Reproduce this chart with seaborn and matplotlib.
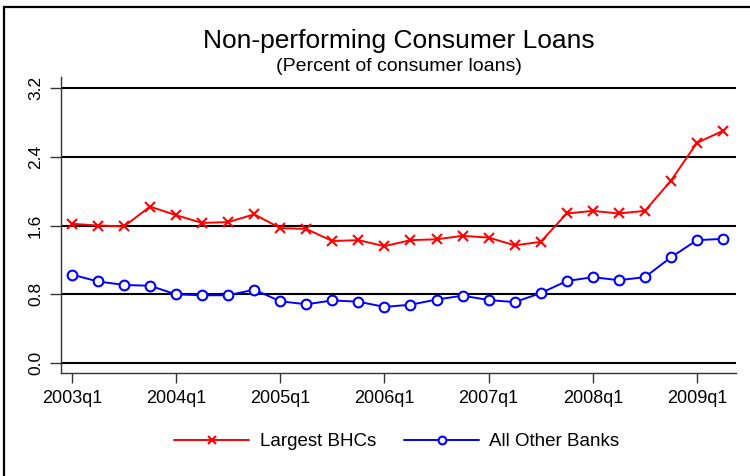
import matplotlib
matplotlib.use("Agg")
import matplotlib.pyplot as plt
import seaborn as sns
import pandas as pd
from matplotlib.patches import Rectangle

quarters = ["2003q1", "2003q2", "2003q3", "2003q4",
            "2004q1", "2004q2", "2004q3", "2004q4",
            "2005q1", "2005q2", "2005q3", "2005q4",
            "2006q1", "2006q2", "2006q3", "2006q4",
            "2007q1", "2007q2", "2007q3", "2007q4",
            "2008q1", "2008q2", "2008q3", "2008q4",
            "2009q1", "2009q2"]
largest_bhcs = [1.62, 1.60, 1.59, 1.82, 1.72, 1.63, 1.64, 1.73,
                1.57, 1.56, 1.42, 1.43, 1.36, 1.43, 1.44, 1.48,
                1.46, 1.37, 1.41, 1.74, 1.77, 1.74, 1.77, 2.12,
                2.56, 2.70]
all_other_banks = [1.03, 0.95, 0.91, 0.90, 0.80, 0.79, 0.79, 0.855,
                   0.72, 0.685, 0.73, 0.715, 0.655, 0.68, 0.74, 0.785,
                   0.735, 0.71, 0.815, 0.955, 1.00, 0.965, 1.00, 1.23,
                   1.43, 1.445]
xtick_labels = ["2003q1", "2004q1", "2005q1", "2006q1", "2007q1", "2008q1", "2009q1"]
ytick_values = [0.0, 0.8, 1.6, 2.4, 3.2]
series_names = ["Largest BHCs", "All Other Banks"]

sns.set_style("ticks")
plt.rcParams["font.family"] = ["Liberation Sans", "DejaVu Sans"]
plt.rcParams["text.color"] = "black"
plt.rcParams["xtick.labelcolor"] = "black"
plt.rcParams["ytick.labelcolor"] = "black"

df = pd.DataFrame({
    "pos": list(range(len(quarters))) * 2,
    "quarter": quarters * 2,
    "value": largest_bhcs + all_other_banks,
    "series": [series_names[0]] * len(quarters) + [series_names[1]] * len(quarters),
})

W, H = 750, 476
fig = plt.figure(figsize=(W / 100, H / 100), dpi=100)
ax = fig.add_axes([61 / W, 1 - 373 / H, 675 / W, 296 / H])

# horizontal gridlines
for v in ytick_values:
    ax.axhline(v, color="black", lw=1.5, zorder=1)

sub1 = df[df.series == series_names[0]]
sub2 = df[df.series == series_names[1]]
sns.lineplot(data=sub1, x="pos", y="value", color="#ff0000", lw=1.4,
             marker="x", markersize=7, markeredgewidth=1.5,
             markeredgecolor="#ff0000", ax=ax, label=series_names[0], zorder=3)
sns.lineplot(data=sub2, x="pos", y="value", color="#0000ff", lw=1.4,
             marker="o", markersize=7, markerfacecolor="white",
             markeredgewidth=1.5, markeredgecolor="#0000ff", ax=ax,
             label=series_names[1], zorder=3)

ax.set_xlim(-0.42, 25.5)
ax.set_ylim(-0.113, 3.325)
tick_pos = [quarters.index(q) for q in xtick_labels]
ax.set_xticks(tick_pos)
ax.set_xticklabels(xtick_labels, fontsize=13, color="black")
ax.set_yticks(ytick_values)
ax.set_yticklabels([f"{v:.1f}" for v in ytick_values], fontsize=12.5,
                   rotation=90, va="center", color="black")
ax.tick_params(axis="x", length=7, width=1, pad=5, color="#333333")
ax.tick_params(axis="y", length=8, width=1, pad=5, color="#333333")
ax.set_xlabel("")
ax.set_ylabel("")
for s in ["top", "right"]:
    ax.spines[s].set_visible(False)
for s in ["left", "bottom"]:
    ax.spines[s].set_color("#333333")
    ax.spines[s].set_linewidth(1)

handles, labels = ax.get_legend_handles_labels()
ax.get_legend().remove()
leg = fig.legend(handles, labels, loc="center", bbox_to_anchor=(397 / W, 1 - 441.7 / H),
                 ncol=2, frameon=False, fontsize=13.5, handlelength=4.0,
                 handletextpad=0.55, columnspacing=1.5, markerscale=0.8)

fig.text(398.5 / W, 1 - 48 / H, "Non-performing Consumer Loans",
         ha="center", va="baseline", fontsize=19, color="black")
fig.text(398.5 / W, 1 - 71 / H, "(Percent of consumer loans)",
         ha="center", va="baseline", fontsize=14, color="black")

# outer frame
fig.patches.append(Rectangle((4 / W, -0.2), 1.5, 1.2 - 7 / H,
                             transform=fig.transFigure, fill=False,
                             edgecolor="black", lw=1.6))

fig.savefig("out.png", dpi=100)
